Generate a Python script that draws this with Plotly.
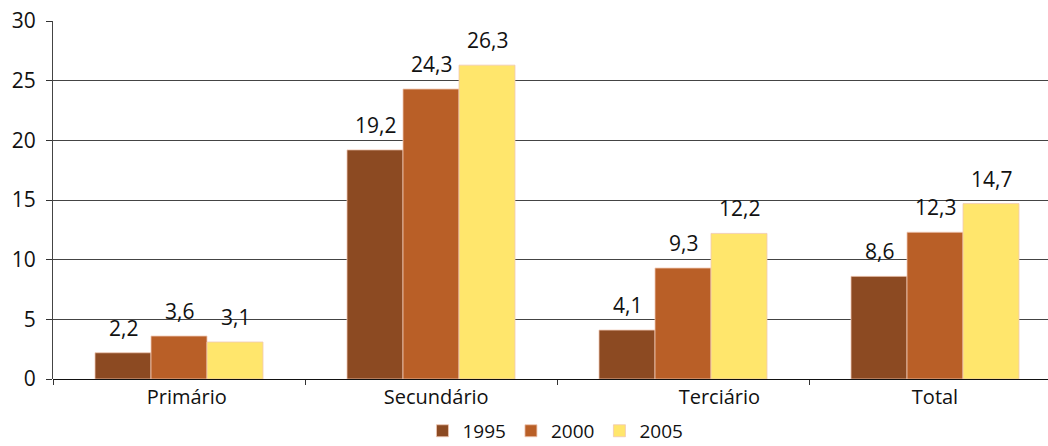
import plotly.graph_objects as go

# Sector growth data by year
categories = ["Primário", "Secundário", "Terciário", "Total"]
years = ["1995", "2000", "2005"]
values_1995 = [2.2, 19.2, 4.1, 8.6]
values_2000 = [3.6, 24.3, 9.3, 12.3]
values_2005 = [3.1, 26.3, 12.2, 14.7]
y_ticks = [0, 5, 10, 15, 20, 25, 30]

series = [values_1995, values_2000, values_2005]
colors = ["#8C4A22", "#B95F27", "#FFE66C"]

NB = "\u00a0"
# category labels, nudged with non-breaking spaces
tick_text = [NB * 3 + categories[0], NB * 2 + categories[1],
             NB * 14 + categories[2], categories[3]]

FONT = "Open Sans, Noto Sans, DejaVu Sans, sans-serif"

fig = go.Figure()
for year, vals, col in zip(years, series, colors):
    fig.add_trace(go.Bar(
        name=year,
        x=categories,
        y=vals,
        marker=dict(color=col, line=dict(color="rgba(240,200,180,0.8)", width=1)),
        offsetgroup=year,
    ))

# value labels above each bar, placed at the bar's value
n = len(years)
group_w = 2 / 3
bar_w = group_w / n
for i, (year, vals) in enumerate(zip(years, series)):
    for j, v in enumerate(vals):
        xc = j - group_w / 2 + bar_w * (i + 0.5)
        fig.add_annotation(
            x=xc, y=v, xref="x", yref="y",
            text=f"{v:.1f}".replace(".", ","),
            showarrow=False, yanchor="bottom", yshift=9,
            font=dict(family=FONT, size=21, color="#111111"),
        )

fig.update_layout(
    width=1048, height=446,
    margin=dict(l=53, r=0, t=21, b=67, autoexpand=False),
    paper_bgcolor="white", plot_bgcolor="white",
    barmode="group", bargap=1 / 3, bargroupgap=0,
    font=dict(family=FONT, size=20, color="#111111"),
    showlegend=True,
    legend=dict(orientation="h", x=0.505, xanchor="center", y=-0.145,
                yanchor="middle", font=dict(family=FONT, size=19, color="#111111"),
                itemwidth=30, traceorder="normal", tracegroupgap=0),
    xaxis=dict(
        type="category",
        range=[-0.5, -0.5 + 995 / 252],
        tickmode="array", tickvals=categories, ticktext=tick_text,
        tickson="boundaries", ticks="outside", ticklen=5, tickcolor="#333333",
        showline=False, showgrid=False, zeroline=False,
        tickfont=dict(family=FONT, size=20, color="#111111"),
        ticklabelstandoff=4,
    ),
    yaxis=dict(
        range=[0, 30], tickmode="array", tickvals=y_ticks,
        ticks="outside", ticklen=6, tickcolor="#333333",
        showline=True, linecolor="#444444", linewidth=1,
        showgrid=True, gridcolor="#444444", gridwidth=1,
        zeroline=True, zerolinecolor="#111111", zerolinewidth=1,
        tickfont=dict(family=FONT, size=21, color="#111111"),
        ticklabelstandoff=6,
    ),
)

fig.write_html("out.html")
